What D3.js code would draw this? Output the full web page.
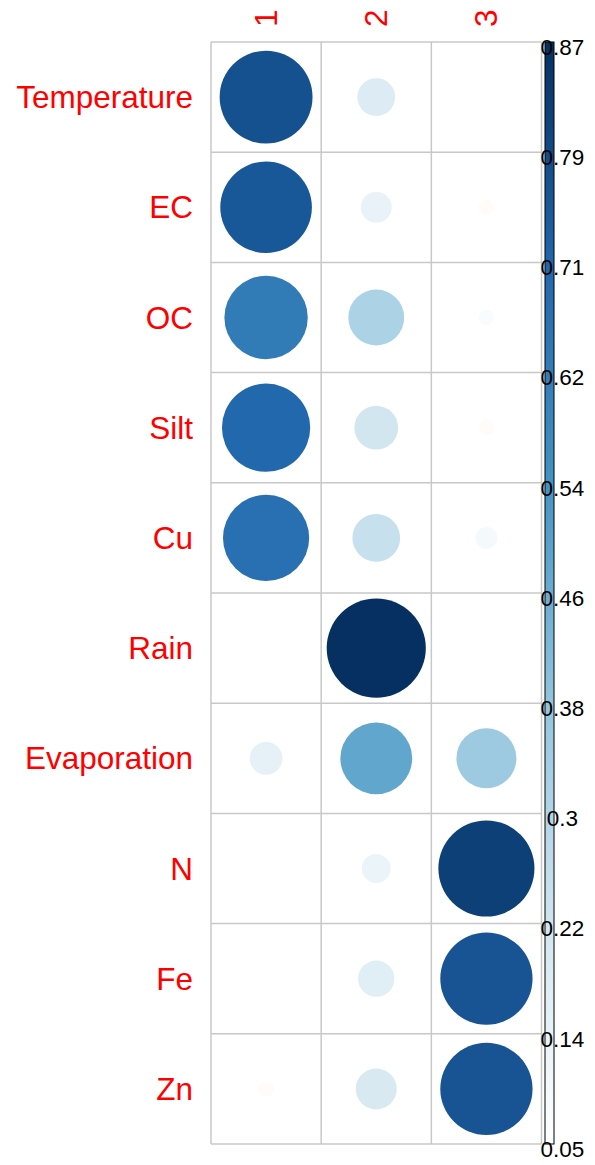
<!DOCTYPE html>
<html>
<head>
<meta charset="utf-8">
<script src="https://cdn.jsdelivr.net/npm/d3@7"></script>
<style>
  body { margin: 0; background: #fff; }
  text { font-family: "Liberation Sans", Arial, sans-serif; }
</style>
</head>
<body>
<div id="chart"></div>
<script>
var rows = ["Temperature", "EC", "OC", "Silt", "Cu", "Rain", "Evaporation", "N", "Fe", "Zn"];
var cols = ["1", "2", "3"];

// loadings per column
var col1 = [0.77, 0.75, 0.63, 0.70, 0.67, 0.05, 0.14, 0.05, 0.05, 0.03];
var col2 = [0.17, 0.13, 0.31, 0.21, 0.24, 0.87, 0.48, 0.12, 0.16, 0.19];
var col3 = [0.05, 0.03, 0.07, 0.03, 0.09, 0.05, 0.35, 0.82, 0.76, 0.76];

var cbLabels = ["0.87", "0.79", "0.71", "0.62", "0.54", "0.46", "0.38", "0.3", "0.22", "0.14", "0.05"];
var lim = [0.05, 0.87];

var palette = ["#67001F", "#B2182B", "#D6604D", "#F4A582", "#FDDBC7", "#FFFFFF",
               "#D1E5F0", "#92C5DE", "#4393C3", "#2166AC", "#053061"];

var width = 595, height = 1165;
var gridLeft = 211, gridRight = 541.5, gridTop = 42, gridBottom = 1144;

var svg = d3.select("#chart").append("svg")
    .attr("width", width)
    .attr("height", height);

var x = d3.scaleBand().domain(cols).range([gridLeft, gridRight]);
var y = d3.scaleBand().domain(rows).range([gridTop, gridBottom]);

// values rescaled to [-1, 1] like corrplot does with is.corr = FALSE
var scaled = d3.scaleLinear().domain(lim).range([0, 1]);
var color = d3.scaleLinear()
    .domain(d3.range(11).map(function(i) { return -1 + i * 0.2; }))
    .range(palette);
var radius = d3.scaleSqrt().domain([0, 1]).range([0, 0.45 * x.bandwidth()]);

var data = [];
rows.forEach(function(r, i) {
  [col1, col2, col3].forEach(function(c, j) {
    data.push({row: r, col: cols[j], value: c[i]});
  });
});

// circles
svg.append("g").selectAll("circle")
    .data(data)
  .enter().append("circle")
    .attr("cx", function(d) { return x(d.col) + x.bandwidth() / 2; })
    .attr("cy", function(d) { return y(d.row) + y.bandwidth() / 2; })
    .attr("r", function(d) { return radius(Math.abs(scaled(d.value))); })
    .attr("fill", function(d) { return color(scaled(d.value)); });

// grid
var grid = svg.append("g")
    .attr("stroke", "#c8c8c8")
    .attr("stroke-width", 1.5);

grid.selectAll(".v")
    .data(cols.concat(["end"]))
  .enter().append("line")
    .attr("x1", function(d, i) { return gridLeft + i * x.bandwidth(); })
    .attr("x2", function(d, i) { return gridLeft + i * x.bandwidth(); })
    .attr("y1", gridTop)
    .attr("y2", gridBottom);

grid.selectAll(".h")
    .data(rows.concat(["end"]))
  .enter().append("line")
    .attr("y1", function(d, i) { return gridTop + i * y.bandwidth(); })
    .attr("y2", function(d, i) { return gridTop + i * y.bandwidth(); })
    .attr("x1", gridLeft)
    .attr("x2", gridRight);

// row labels
svg.append("g").selectAll("text")
    .data(rows)
  .enter().append("text")
    .attr("x", 193)
    .attr("y", function(d) { return y(d) + y.bandwidth() / 2; })
    .attr("dy", "0.35em")
    .attr("text-anchor", "end")
    .attr("fill", "#ff0000")
    .style("font-size", "31.5px")
    .text(function(d) { return d; });

// column labels, rotated
svg.append("g").selectAll("text")
    .data(cols)
  .enter().append("text")
    .attr("transform", function(d) {
      return "translate(" + (x(d) + x.bandwidth() / 2) + ",27) rotate(-90)";
    })
    .attr("dy", "0.35em")
    .attr("text-anchor", "start")
    .attr("fill", "#ff0000")
    .style("font-size", "31.5px")
    .text(function(d) { return d; });

// colour bar
var cbX = 545, cbW = 9;
var cbY = d3.scaleLinear().domain(lim).range([gridBottom, gridTop]);

var grad = svg.append("defs").append("linearGradient")
    .attr("id", "cbgrad")
    .attr("x1", 0).attr("y1", 1).attr("x2", 0).attr("y2", 0);

grad.selectAll("stop")
    .data(d3.range(0, 1.0001, 0.05))
  .enter().append("stop")
    .attr("offset", function(d) { return d; })
    .attr("stop-color", function(d) { return color(d); });

svg.append("rect")
    .attr("x", cbX)
    .attr("y", cbY(lim[1]))
    .attr("width", cbW)
    .attr("height", cbY(lim[0]) - cbY(lim[1]))
    .attr("fill", "url(#cbgrad)")
    .attr("stroke", "#000")
    .attr("stroke-width", 1);

var cbTick = d3.scalePoint().domain(cbLabels).range([gridTop, gridBottom]);

svg.append("g").selectAll("text")
    .data(cbLabels)
  .enter().append("text")
    .attr("x", 562.5)
    .attr("y", function(d) { return cbTick(d) + 5; })
    .attr("dy", "0.35em")
    .attr("text-anchor", "middle")
    .attr("fill", "#000")
    .style("font-size", "22.5px")
    .text(function(d) { return d; });
</script>
</body>
</html>
